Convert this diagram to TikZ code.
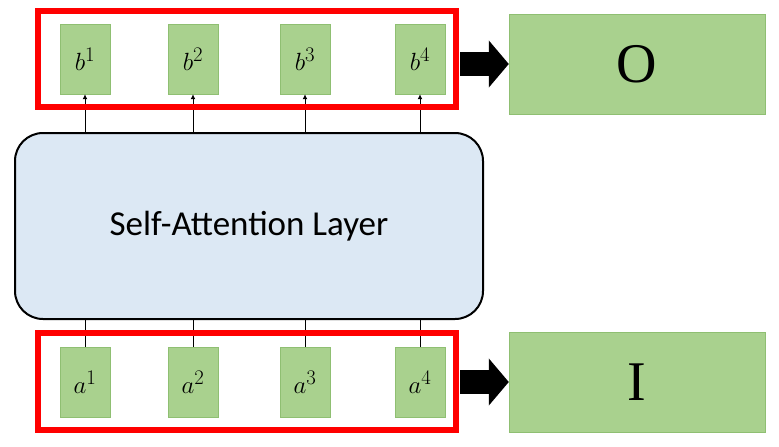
\documentclass[tikz,border=0pt]{standalone}
\usepackage{fontspec}
\setmainfont{Liberation Serif}
\newfontfamily\carl{Carlito}
\usetikzlibrary{arrows.meta}
\definecolor{gfill}{HTML}{A9D18E}
\definecolor{gline}{HTML}{8FBF72}
\definecolor{safill}{HTML}{DCE8F4}
\begin{document}
\begin{tikzpicture}[x=1pt,y=-1pt,
  sm/.style={draw=gline,fill=gfill,minimum width=50pt,minimum height=70pt,inner sep=0pt,font=\fontsize{32}{32}\selectfont},
  big/.style={draw=gline,fill=gfill,minimum width=256pt,minimum height=100pt,inner sep=0pt,font=\fontsize{56}{56}\selectfont},
  red/.style={draw=red,line width=5.5pt,minimum width=418pt,inner sep=0pt},
  barr/.style={line width=24pt,-{Triangle[length=20pt,width=46pt]}}]
\useasboundingbox (0,0) rectangle (779,447);
\node[draw=black,line width=2pt,rounded corners=28pt,fill=safill,minimum width=468pt,minimum height=186pt] (sa) at (249,226) {\carl\fontsize{35}{35}\selectfont Self-Attention Layer};
\foreach \i/\x in {1/85,2/193,3/305,4/420}{
  \node[sm] (b\i) at (\x,59) {$b^{\i}$};
  \node[sm] (a\i) at (\x,382) {$a^{\i}$};
  \draw[-{Latex[length=5pt,width=5pt]},line width=1pt] (\x,133) -- (b\i.south);
  \draw[line width=1pt] (a\i.north) -- (\x,319);
}
\node[red,minimum height=96pt] (rt) at (247,59) {};
\node[red,minimum height=97pt] (rb) at (247,381.5) {};
\node[big] (O) at (637,64) {O};
\node[big] (I) at (637,382) {I};
\coordinate (s1) at (460,64);
\coordinate (s2) at (460,382);
\draw[barr] (s1) -- (O.west);
\draw[barr] (s2) -- (I.west);
\end{tikzpicture}
\end{document}
